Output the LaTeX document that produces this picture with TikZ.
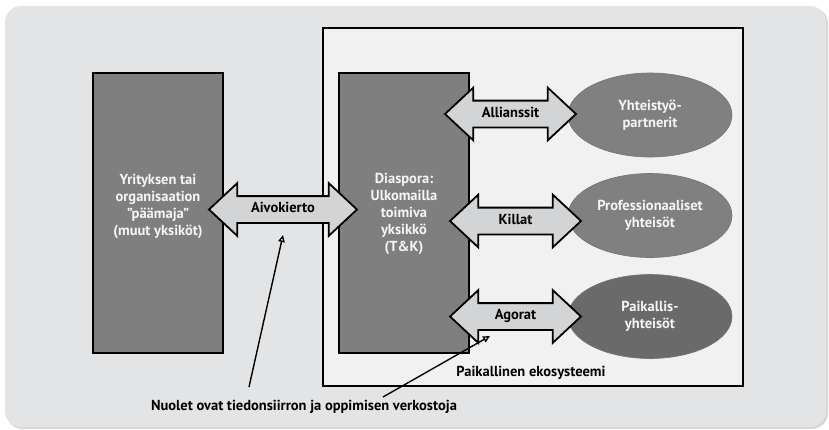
\documentclass[tikz,border=0pt]{standalone}
\usepackage{fontspec}
\setmainfont{PT Sans}
\usetikzlibrary{shapes.geometric,shapes.arrows,arrows.meta}

\definecolor{bgpanel}{HTML}{E3E4E6}
\definecolor{panelshade}{HTML}{D6D7D9}
\definecolor{ecofill}{HTML}{F1F1F1}
\definecolor{unitgray}{HTML}{7F7F7F}
\definecolor{commgray}{HTML}{808080}
\definecolor{localgray}{HTML}{6A6A6A}
\definecolor{flowfill}{HTML}{D3D4D6}
\definecolor{labelwhite}{HTML}{F5F5F5}

\tikzset{
  txt/.style={font=\bfseries\fontsize{14.5}{17}\selectfont},
  unitbox/.style={draw=black, line width=1.2pt, fill=unitgray,
    minimum width=130, minimum height=280, inner sep=0},
  unitlabel/.style={txt, text=labelwhite, align=center},
  community/.style={ellipse, draw=black!55, line width=0.6pt, fill=commgray,
    minimum width=164, minimum height=84, inner sep=0,
    txt, text=labelwhite, align=center},
  flow/.style={double arrow, draw=black, line width=1.8pt, fill=flowfill,
    double arrow head extend=13, double arrow tip angle=86,
    inner xsep=0, inner ysep=6.5, text height=9, text depth=3,
    minimum height=131, txt},
  pointer/.style={-{Triangle[open,length=7,width=6.5]}, line width=1.4pt}
}

\begin{document}
\begin{tikzpicture}[x=1pt,y=-1pt]
  \useasboundingbox (0,0) rectangle (829,429);

  % panel with a soft shadow
  \fill[panelshade, rounded corners=16] (6.5,7.5) rectangle (828,429);
  \fill[bgpanel, rounded corners=16] (5,6) rectangle (826,427);

  % local ecosystem frame
  \node[draw=black, line width=1.2pt, fill=ecofill, minimum width=420,
        minimum height=358, inner sep=0] (eco) at (533,207) {};
  \node[txt, text=black] (ecolabel) at (531,373) {Paikallinen ekosysteemi};

  % organisational units
  \node[unitbox] (hq) at (158,213) {};
  \node[unitlabel] (hqtext) at (158,206)
    {Yrityksen tai\\organisaation\\"päämaja"\\(muut yksiköt)};
  \node[unitbox] (diaspora) at (404,213) {};
  \node[unitlabel] (diasporatext) at (404,214)
    {Diaspora:\\Ulkomailla\\toimiva\\yksikkö\\(T\&K)};

  % communities
  \node[community] (partners) at (650,115) {Yhteistyö-\\partnerit};
  \node[community] (profs) at (650,215.5) {Professionaaliset\\yhteisöt};
  \node[community, fill=localgray] (locals) at (650,316.5) {Paikallis-\\yhteisöt};

  % knowledge flows
  \node[flow, minimum height=148] (brain) at (283,209.5) {Aivokierto};
  \node[flow] (alliances) at (510.5,114) {Allianssit};
  \node[flow] (guilds) at (515.5,221) {Killat};
  \node[flow] (agoras) at (515.5,316.5) {Agorat};

  % explanatory note with pointers
  \node[txt, text=black] (note) at (304,407)
    {Nuolet ovat tiedonsiirron ja oppimisen verkostoja};
  \coordinate (tailA) at (249,387);
  \coordinate (tipA) at (283,235);
  \coordinate (tailB) at (383,397);
  \coordinate (tipB) at (490,336);
  \draw[pointer] (tailA) -- (tipA);
  \draw[pointer] (tailB) -- (tipB);
\end{tikzpicture}
\end{document}
